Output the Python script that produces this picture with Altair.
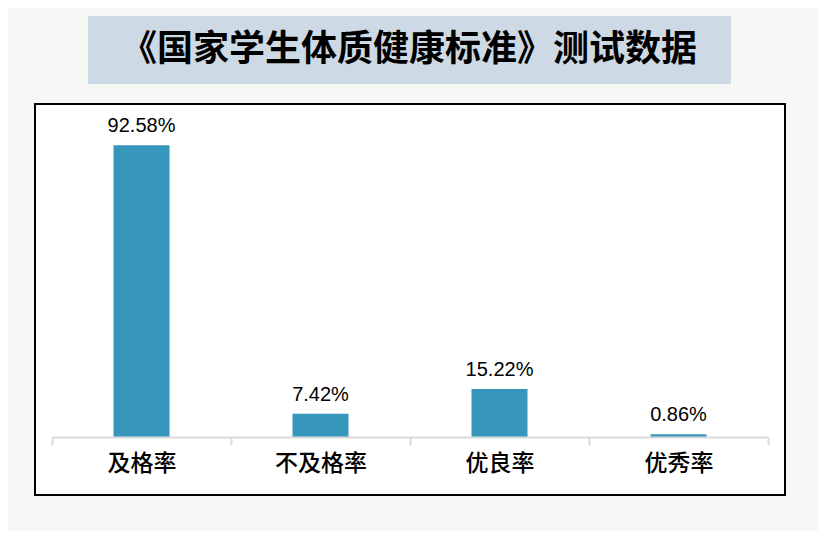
import altair as alt
import pandas as pd

categories = ["及格率", "不及格率", "优良率", "优秀率"]
values = [92.58, 7.42, 15.22, 0.86]
labels = ["92.58%", "7.42%", "15.22%", "0.86%"]
title_text = "《国家学生体质健康标准》测试数据"

df = pd.DataFrame({"cat": categories, "val": values, "lab": labels})
one = pd.DataFrame({"k": [0]})

BAR = "#3796bc"

x_enc = alt.X("cat:N", sort=categories, title=None,
              scale=alt.Scale(paddingInner=0, paddingOuter=0),
              axis=alt.Axis(labelAngle=0, domainColor="#d9d9d9", domainWidth=2,
                            tickColor="#d9d9d9", tickWidth=2, tickSize=8,
                            tickBand="extent", labelFontSize=23,
                            labelFont="Noto Sans CJK SC", labelFontWeight=500,
                            labelColor="#000000",
                            labelPadding=7, zindex=1))
y_enc = alt.Y("val:Q", scale=alt.Scale(domain=[0, 100]), axis=None)

frame = alt.Chart(one).mark_rect(fill="white", stroke="black", strokeWidth=2).encode(
    x=alt.value(-17), x2=alt.value(733), y=alt.value(-18), y2=alt.value(373))

title_box = alt.Chart(one).mark_rect(fill="#cdd9e4").encode(
    x=alt.value(36), x2=alt.value(679), y=alt.value(-106), y2=alt.value(-38))

title = alt.Chart(one).mark_text(font="Noto Sans CJK SC", fontSize=36, fontWeight="bold",
                                 color="#000000", align="center", baseline="middle").encode(
    x=alt.value(357), y=alt.value(-72), text=alt.value(title_text))

bars = alt.Chart(df).mark_bar(color=BAR, size=56).encode(x=x_enc, y=y_enc)

text = alt.Chart(df).mark_text(font="Liberation Sans", fontSize=20, color="#000000",
                               baseline="bottom", dy=-9).encode(
    x=alt.X("cat:N", sort=categories), y="val:Q", text="lab:N")

chart = alt.layer(frame, title_box, title, bars, text).properties(
    width=716, height=315,
    padding={"left": 44, "top": 114, "right": 50, "bottom": 94},
    autosize=alt.AutoSizeParams(type="none"),
    background="#f6f8f6",
).configure_view(stroke=None)

chart.save("out.html", embed_options={"renderer": "svg", "actions": False})
